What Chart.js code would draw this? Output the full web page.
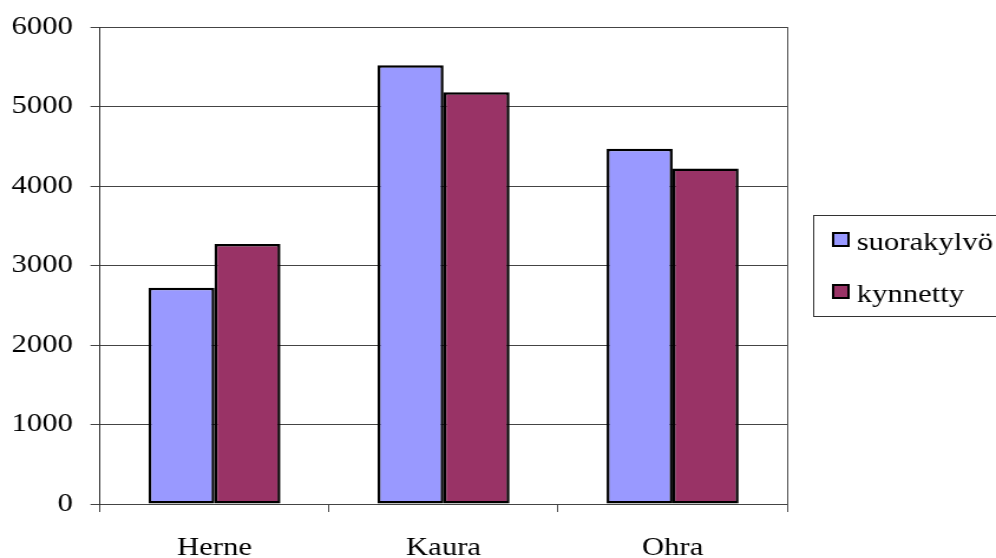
<!DOCTYPE html>
<html>
<head>
<meta charset="utf-8">
<script src="https://cdn.jsdelivr.net/npm/chart.js@4"></script>
<style>
  html, body { margin: 0; padding: 0; background: #fff; overflow: hidden; }
  /* the chart is laid out narrow and widened horizontally, giving the wide serif lettering */
  #wrap { width: 844px; height: 558px; transform: scaleX(1.18009); transform-origin: 0 0; }
  canvas { display: block; }
</style>
</head>
<body>
<div id="wrap"><canvas id="c" width="844" height="558"></canvas></div>
<script>
const categories = ['Herne', 'Kaura', 'Ohra'];
const seriesNames = ['suorakylvö', 'kynnetty'];
const suorakylvo = [2720, 5520, 4470];
const kynnetty = [3270, 5180, 4220];
const yTicks = { min: 0, max: 6000, step: 1000 };

const FONT = { family: '"Liberation Serif", "Times New Roman", serif', size: 26 };

// boxed legend on the right, listing each dataset with a square swatch
const boxLegend = {
  id: 'boxLegend',
  afterDraw(chart) {
    const ctx = chart.ctx;
    const a = chart.chartArea;
    const x0 = a.right + 22, y0 = 215, h = 101;
    ctx.save();
    ctx.fillStyle = '#fff';
    ctx.fillRect(x0, y0, 200, h);
    ctx.strokeStyle = '#333';
    ctx.lineWidth = 1;
    ctx.strokeRect(x0 + 0.5, y0 + 0.5, 200, h);
    ctx.font = `${FONT.size}px ${FONT.family}`;
    ctx.textBaseline = 'alphabetic';
    chart.data.datasets.forEach((ds, i) => {
      const cy = y0 + 25 + i * 52;
      ctx.fillStyle = ds.backgroundColor;
      ctx.fillRect(x0 + 17, cy - 7, 13, 13);
      ctx.strokeStyle = '#000';
      ctx.lineWidth = 2;
      ctx.strokeRect(x0 + 17, cy - 7, 13, 13);
      ctx.fillStyle = '#000';
      ctx.fillText(ds.label, x0 + 37, cy + 10);
    });
    ctx.restore();
  }
};

// right edge of the plot frame, running down to the tick marks
const rightFrame = {
  id: 'rightFrame',
  afterDatasetsDraw(chart) {
    const a = chart.chartArea;
    const ctx = chart.ctx;
    ctx.save();
    ctx.strokeStyle = '#555';
    ctx.lineWidth = 1;
    ctx.beginPath();
    ctx.moveTo(Math.round(a.right) + 0.5, a.top);
    ctx.lineTo(Math.round(a.right) + 0.5, a.bottom + 8);
    ctx.stroke();
    ctx.restore();
  }
};

new Chart(document.getElementById('c'), {
  type: 'bar',
  data: {
    labels: categories,
    datasets: [
      { label: seriesNames[0], data: suorakylvo, backgroundColor: '#9999FF' },
      { label: seriesNames[1], data: kynnetty, backgroundColor: '#993366' }
    ]
  },
  options: {
    responsive: false,
    animation: false,
    devicePixelRatio: 1,
    layout: { padding: { top: 27, right: 177, bottom: 0, left: 0 } },
    datasets: {
      bar: {
        categoryPercentage: 0.576,
        barPercentage: 1,
        borderColor: '#000',
        borderWidth: 2.5,
        borderSkipped: false
      }
    },
    plugins: {
      legend: { display: false },
      tooltip: { enabled: false }
    },
    scales: {
      x: {
        grid: { offset: true, drawOnChartArea: false, drawTicks: true, tickLength: 8, color: '#444' },
        border: { color: '#444', width: 1 },
        ticks: { color: '#000', font: FONT, padding: 21 },
        afterFit(scale) { scale.height = 54; scale.paddingLeft = 0; scale.paddingRight = 0; }
      },
      y: {
        min: yTicks.min,
        max: yTicks.max,
        grid: { color: '#444', lineWidth: 1, tickLength: 8 },
        border: { color: '#333', width: 1 },
        ticks: {
          stepSize: yTicks.step,
          color: '#000',
          font: FONT,
          padding: 15,
          callback: (v) => String(v)
        },
        afterFit(scale) { scale.width = 84.7; scale.paddingTop = 0; scale.paddingBottom = 0; }
      }
    }
  },
  plugins: [rightFrame, boxLegend]
});
</script>
</body>
</html>
